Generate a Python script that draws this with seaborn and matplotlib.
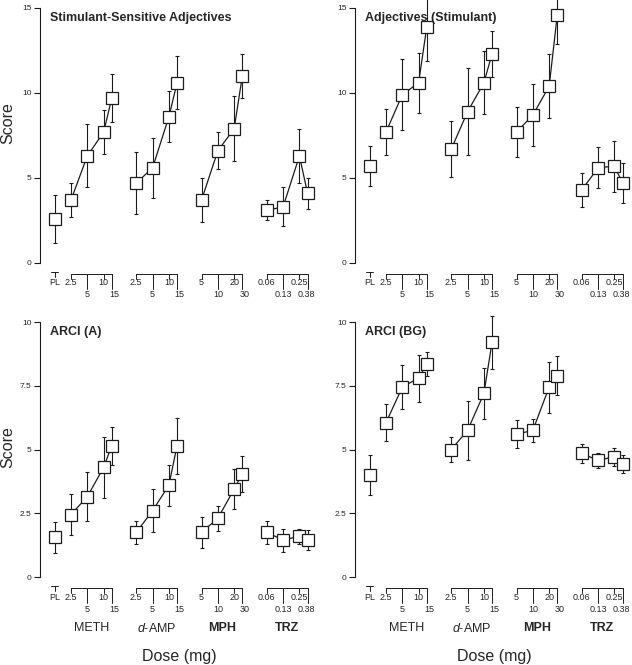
import pandas as pd
import seaborn as sns
import matplotlib.pyplot as plt

sns.set_style('white')
plt.rcParams['font.family'] = ['Liberation Sans', 'DejaVu Sans']
plt.rcParams['mathtext.fontset'] = 'custom'
plt.rcParams['mathtext.rm'] = 'Liberation Sans'
plt.rcParams['mathtext.it'] = 'Liberation Sans:italic'

INK = '#1c1c1c'

# drug groups and dose labels (mg)
drugs = ['METH', 'd-AMP', 'MPH', 'TRZ']
drug_labels = ['METH', r'$\mathit{d}$-AMP', 'MPH', 'TRZ']
drug_weights = ['normal', 'normal', 'bold', 'bold']
meth_doses = ['2.5', '5', '10', '15']
damp_doses = ['2.5', '5', '10', '15']
mph_doses = ['5', '10', '20', '30']
trz_doses = ['0.06', '0.13', '0.25', '0.38']
dose_lists = [meth_doses, damp_doses, mph_doses, trz_doses]

# order of values: PL, METH x4, d-AMP x4, MPH x4, TRZ x4  (mean, SEM)
ssa_mean = [2.6, 3.7, 6.3, 7.7, 9.7, 4.7, 5.6, 8.6, 10.6, 3.7, 6.6, 7.9, 11.0, 3.1, 3.3, 6.3, 4.1]
ssa_sem = [1.4, 1.0, 1.85, 1.3, 1.4, 1.8, 1.75, 1.5, 1.55, 1.3, 1.1, 1.9, 1.3, 0.6, 1.15, 1.6, 0.9]

adj_mean = [5.7, 7.7, 9.9, 10.6, 13.9, 6.7, 8.9, 10.6, 12.3, 7.7, 8.7, 10.4, 14.6, 4.3, 5.6, 5.7, 4.7]
adj_sem = [1.2, 1.35, 2.1, 1.75, 2.0, 1.65, 2.55, 1.85, 1.35, 1.45, 1.8, 1.9, 1.7, 1.0, 1.2, 1.5, 1.2]

arcia_mean = [1.55, 2.45, 3.15, 4.3, 5.15, 1.75, 2.6, 3.6, 5.15, 1.75, 2.3, 3.45, 4.05, 1.75, 1.45, 1.6, 1.45]
arcia_sem = [0.6, 0.8, 0.95, 1.2, 0.75, 0.45, 0.85, 0.8, 1.1, 0.6, 0.5, 0.8, 0.7, 0.45, 0.45, 0.3, 0.38]

arcibg_mean = [4.0, 6.05, 7.45, 7.8, 8.35, 5.0, 5.75, 7.2, 9.2, 5.6, 5.75, 7.45, 7.9, 4.85, 4.57, 4.72, 4.43]
arcibg_sem = [0.77, 0.73, 0.86, 0.92, 0.47, 0.5, 1.17, 1.0, 1.05, 0.55, 0.44, 1.0, 0.75, 0.38, 0.3, 0.35, 0.37]

# x layout: placebo, then 4 doses per drug (last dose squeezed in)
pl_pos = -1
slot = [0, 1, 2, 2.5]
gap = 4

rows = [{'drug': 'PL', 'dose': 'PL', 'pos': pl_pos}]
for gi, drug in enumerate(drugs):
    for j, dose in enumerate(dose_lists[gi]):
        rows.append({'drug': drug, 'dose': dose, 'pos': gi * gap + slot[j]})
base = pd.DataFrame(rows)

W, H = 632, 665
AX_W, AX_H = 279, 255
fig = plt.figure(figsize=(W / 100, H / 100), dpi=100)


def add_ax(left, top):
    return fig.add_axes([left / W, (H - top - AX_H) / H, AX_W / W, AX_H / H])


def yo(px):
    # pixels below the x-axis, in axes fraction
    return -px / AX_H


def panel(ax, mean, sem, title, ymax, yticks, yticklabels, bottom_row, label_y):
    d = base.copy()
    d['score'] = mean
    d['sem'] = sem

    ax.errorbar(d['pos'], d['score'], yerr=d['sem'], fmt='none', ecolor=INK,
                elinewidth=0.8, capsize=1.6, capthick=0.8, zorder=1, clip_on=False)
    sns.lineplot(data=d, x='pos', y='score', units='drug', estimator=None,
                 color=INK, lw=0.9, marker='s', markersize=8,
                 markerfacecolor='white', markeredgecolor=INK, markeredgewidth=0.9,
                 legend=False, ax=ax, zorder=3, clip_on=False)

    ax.set_xlim(-1.9, 15.2)
    ax.set_ylim(0, ymax)
    sns.despine(ax=ax, bottom=True)
    ax.spines['left'].set_linewidth(0.8)
    ax.spines['left'].set_color(INK)
    ax.set_xticks([])
    ax.set_yticks(yticks)
    ax.set_yticklabels(yticklabels)
    ax.tick_params(axis='y', left=True, direction='out', length=4.5, width=0.8,
                   color=INK, pad=1.5, labelsize=6)
    ax.set_xlabel('')
    if label_y is not None:
        ax.set_ylabel('Score', fontsize=11.5)
        ax.yaxis.set_label_coords(-0.088, label_y)
    else:
        ax.set_ylabel('')

    ax.text(0.037, 1 - 10 / AX_H, title, transform=ax.transAxes, fontsize=9,
            fontweight='bold', ha='left', va='center')

    tr = ax.get_xaxis_transform()
    kw = dict(transform=tr, clip_on=False, color=INK, lw=0.7)
    # placebo tick
    ax.plot([pl_pos - 0.2, pl_pos + 0.2], [yo(9), yo(9)], **kw)
    ax.plot([pl_pos, pl_pos], [yo(9), yo(14)], **kw)
    ax.text(pl_pos, yo(20), 'PL', transform=tr, fontsize=6.5, ha='center', va='center')
    # dose brackets
    for gi, doses in enumerate(dose_lists):
        xs = [gi * gap + s for s in slot]
        ax.plot([xs[0], xs[-1]], [yo(11), yo(11)], **kw)
        for j, x in enumerate(xs):
            tick = 15 if j % 2 else 5
            ax.plot([x, x], [yo(11), yo(11 + tick)], **kw)
            ty = yo(32) if j % 2 else yo(20)
            nudge = 0.0
            if j == 3:
                nudge = -0.1 if gi == 3 else 0.15
            ax.text(x + nudge, ty, doses[j], transform=tr,
                    fontsize=6.5, ha='center', va='center')
        if bottom_row:
            ax.text(gi * gap + 1.25, yo(51), drug_labels[gi], transform=tr,
                    fontsize=9, fontweight=drug_weights[gi], ha='center', va='center')
    if bottom_row:
        ax.text(0.5, yo(80), 'Dose (mg)', transform=ax.transAxes, fontsize=11.5,
                ha='center', va='center')


ax1 = add_ax(40, 8)
ax2 = add_ax(355, 8)
ax3 = add_ax(40, 322)
ax4 = add_ax(355, 322)

top_ticks = [0, 5, 10, 15]
top_labels = ['0', '5', '10', '15']
bot_ticks = [0, 2.5, 5, 7.5, 10]
bot_labels = ['0', '2.5', '5', '7.5', '10']

panel(ax1, ssa_mean, ssa_sem, 'Stimulant-Sensitive Adjectives', 15, top_ticks, top_labels, False, 0.55)
panel(ax2, adj_mean, adj_sem, 'Adjectives (Stimulant)', 15, top_ticks, top_labels, False, None)
panel(ax3, arcia_mean, arcia_sem, 'ARCI (A)', 10, bot_ticks, bot_labels, True, 0.51)
panel(ax4, arcibg_mean, arcibg_sem, 'ARCI (BG)', 10, bot_ticks, bot_labels, True, None)

fig.savefig('out.png', dpi=100)
